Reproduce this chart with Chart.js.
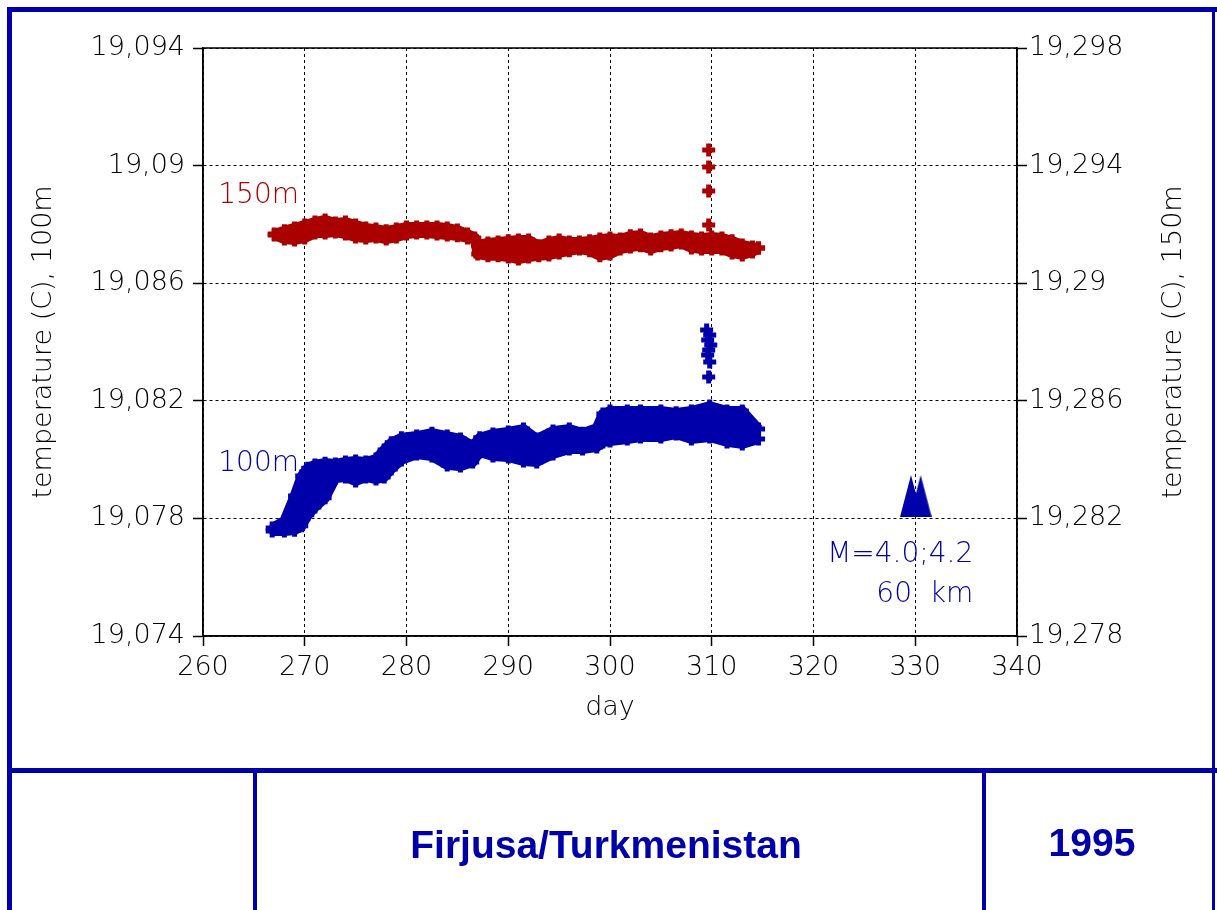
<!DOCTYPE html>
<html>
<head>
<meta charset="utf-8">
<title>Firjusa/Turkmenistan 1995</title>
<script src="https://cdn.jsdelivr.net/npm/chart.js@4.4.0/dist/chart.umd.min.js"></script>
<style>
  html, body { margin: 0; padding: 0; background: #fff; }
  #wrap { width: 1217px; height: 910px; }
</style>
</head>
<body>
<div id="wrap"><canvas id="myChart" width="1217" height="910"></canvas></div>
<script>
// 150m sensor (right axis): upper / lower edge of the point cloud
const redDays = [267, 268, 269, 270, 271, 272, 273, 274, 275, 276, 277, 278, 279, 280, 281, 282, 283, 284, 285, 286, 286.7,
  287, 288, 289, 290, 291, 292, 293, 294, 295, 296, 297, 298, 299, 300, 301, 302, 303, 304, 305, 306, 307, 308, 309, 310, 311, 312, 313, 314, 314.6];
const redHigh = [19.29167, 19.29178, 19.29188, 19.29198, 19.29208, 19.29215, 19.29205, 19.29208, 19.29198, 19.29188, 19.29184, 19.29178, 19.29184, 19.29191, 19.29191, 19.29191, 19.29191, 19.29188, 19.29181, 19.29167, 19.29154,
  19.29130, 19.29137, 19.29140, 19.29144, 19.29147, 19.29147, 19.29127, 19.29140, 19.29147, 19.29140, 19.29140, 19.29144, 19.29150, 19.29154, 19.29150, 19.29161, 19.29164, 19.29150, 19.29157, 19.29161, 19.29164, 19.29157, 19.29154, 19.29157, 19.29154, 19.29144, 19.29130, 19.29123, 19.29120];
const redLow = [19.29164, 19.29150, 19.29147, 19.29154, 19.29171, 19.29171, 19.29174, 19.29167, 19.29157, 19.29154, 19.29157, 19.29150, 19.29157, 19.29167, 19.29171, 19.29171, 19.29167, 19.29164, 19.29161, 19.29154, 19.29150,
  19.29099, 19.29093, 19.29093, 19.29089, 19.29082, 19.29089, 19.29093, 19.29096, 19.29103, 19.29110, 19.29116, 19.29110, 19.29093, 19.29099, 19.29116, 19.29123, 19.29127, 19.29116, 19.29127, 19.29130, 19.29137, 19.29120, 19.29116, 19.29116, 19.29116, 19.29103, 19.29096, 19.29106, 19.29120];
const redSpikeDays = [309.7, 309.7, 309.7, 309.7];
const redSpike = [19.29453, 19.29395, 19.29314, 19.29198];

// 100m sensor (left axis)
const blueDays = [266.8, 268, 269, 269.7, 270.3, 271, 272, 273, 274, 275, 276, 277, 277.8, 278.5, 279.5, 281, 282.5, 284, 285.3, 286.5,
  287.2, 288.5, 290, 291.5, 292.8, 294.4, 296, 297.3, 298.7, 299.3, 300, 301.7, 303, 305, 306.5, 308, 309.8, 311.5, 313, 314.6];
const blueHigh = [19.07767, 19.07791, 19.07876, 19.07944, 19.07971, 19.07982, 19.07988, 19.07985, 19.07992, 19.07995, 19.07992, 19.08002, 19.08033, 19.08057, 19.08074, 19.08080, 19.08090, 19.08080, 19.08070, 19.08046,
  19.08074, 19.08087, 19.08094, 19.08104, 19.08070, 19.08097, 19.08104, 19.08090, 19.08107, 19.08155, 19.08165, 19.08165, 19.08165, 19.08165, 19.08159, 19.08165, 19.08182, 19.08165, 19.08165, 19.08104];
const blueLow = [19.07757, 19.07757, 19.07760, 19.07775, 19.07812, 19.07839, 19.07870, 19.07937, 19.07941, 19.07927, 19.07941, 19.07934, 19.07941, 19.07968, 19.07999, 19.08019, 19.08012, 19.07982, 19.07978, 19.07992,
  19.08026, 19.08012, 19.08009, 19.07995, 19.07992, 19.08019, 19.08036, 19.08036, 19.08043, 19.08060, 19.08063, 19.08070, 19.08077, 19.08077, 19.08087, 19.08070, 19.08077, 19.08060, 19.08053, 19.08070];
const blueSpikeDays = [309.5, 309.8, 309.6, 309.9, 309.7, 309.6, 309.8, 309.7];
const blueSpike = [19.08441, 19.08424, 19.08407, 19.08390, 19.08373, 19.08356, 19.08332, 19.08281];

// earthquake marker (M=4.0;4.2, 60 km)
const quakeDays = [329.58, 330.53];
const quakeTemp = [19.07876, 19.07876];

const dayTicks = [260, 270, 280, 290, 300, 310, 320, 330, 340];
const leftTicks = [19.074, 19.078, 19.082, 19.086, 19.09, 19.094];
const leftLabels = ["19,074", "19,078", "19,082", "19,086", "19,09", "19,094"];
const rightTicks = [19.278, 19.282, 19.286, 19.29, 19.294, 19.298];
const rightLabels = ["19,278", "19,282", "19,286", "19,29", "19,294", "19,298"];

const RED = "#aa0000";
const BLUE = "#0000aa";
const FRAME = "#0000aa";
const font = { family: "'DejaVu Sans'", size: 27, weight: "200" };

function pts(xs, ys) {
  return xs.map((d, i) => ({ x: d, y: ys[i] }));
}

// tall triangle used for the quake symbol
const tri = document.createElement("canvas");
tri.width = 22;
tri.height = 42;
const tctx = tri.getContext("2d");
tctx.fillStyle = BLUE;
tctx.beginPath();
tctx.moveTo(0, 42);
tctx.lineTo(11, 0);
tctx.lineTo(22, 42);
tctx.closePath();
tctx.fill();

const band = (color) => ({
  showLine: true,
  borderColor: color,
  backgroundColor: color,
  borderWidth: 10,
  pointStyle: "cross",
  pointRadius: 6.5,
  pointBorderWidth: 5,
  pointBorderColor: color,
});

const framePlugin = {
  id: "frame",
  beforeDraw(chart) {
    const ctx = chart.ctx;
    ctx.save();
    ctx.fillStyle = "#fff";
    ctx.fillRect(0, 0, chart.width, chart.height);
    ctx.fillStyle = FRAME;
    ctx.fillRect(7, 7, 1210, 5);
    ctx.fillRect(7, 7, 5, 903);
    ctx.fillRect(1212, 7, 3, 903);
    ctx.fillRect(7, 768, 1210, 5);
    ctx.fillRect(253, 768, 4, 142);
    ctx.fillRect(982, 768, 4, 142);
    ctx.font = "bold 39px 'Liberation Sans'";
    ctx.textAlign = "center";
    ctx.textBaseline = "middle";
    ctx.fillText("Firjusa/Turkmenistan", 606, 847);
    ctx.fillText("1995", 1092, 845);
    ctx.restore();
  },
  afterDraw(chart) {
    const { ctx, chartArea: a } = chart;
    ctx.save();
    ctx.strokeStyle = "#000";
    ctx.lineWidth = 1.5;
    ctx.strokeRect(a.left, a.top, a.right - a.left, a.bottom - a.top);
    // right axis title reads bottom to top like the left one
    ctx.translate(1174, (a.top + a.bottom) / 2);
    ctx.rotate(-Math.PI / 2);
    ctx.font = "200 27px 'DejaVu Sans'";
    ctx.fillStyle = "#000";
    ctx.textAlign = "center";
    ctx.textBaseline = "middle";
    ctx.fillText("temperature (C), 150m", 0, 0);
    ctx.restore();
  },
};

const notesPlugin = {
  id: "notes",
  afterDatasetsDraw(chart) {
    const { ctx, scales: { x, y } } = chart;
    ctx.save();
    ctx.font = "200 28px 'DejaVu Sans'";
    ctx.textBaseline = "middle";
    ctx.textAlign = "left";
    ctx.fillStyle = RED;
    ctx.fillText("150m", x.getPixelForValue(261.5), y.getPixelForValue(19.08907) + 3);
    ctx.fillStyle = BLUE;
    ctx.fillText("100m", x.getPixelForValue(261.5), y.getPixelForValue(19.07995) + 3);
    ctx.textAlign = "right";
    ctx.fillText("M=4.0;4.2", x.getPixelForValue(335.7), y.getPixelForValue(19.07686) + 3);
    ctx.fillText("60  km", x.getPixelForValue(335.7), y.getPixelForValue(19.0755) + 3);
    ctx.restore();
  },
};

const ctx = document.getElementById("myChart").getContext("2d");
const myChart = new Chart(ctx, {
  type: "scatter",
  data: {
    datasets: [
      { ...band(RED), data: pts(redDays, redHigh), yAxisID: "y1", fill: false },
      { ...band(RED), data: pts(redDays, redLow), yAxisID: "y1", fill: "-1" },
      { data: pts(redSpikeDays, redSpike), yAxisID: "y1", pointStyle: "cross", pointRadius: 6.5, pointBorderWidth: 5, pointBorderColor: RED },
      { ...band(BLUE), data: pts(blueDays, blueHigh), yAxisID: "y", fill: false },
      { ...band(BLUE), data: pts(blueDays, blueLow), yAxisID: "y", fill: "-1" },
      { data: pts(blueSpikeDays, blueSpike), yAxisID: "y", pointStyle: "cross", pointRadius: 6.5, pointBorderWidth: 5, pointBorderColor: BLUE },
      { data: pts(quakeDays, quakeTemp), yAxisID: "y", pointStyle: tri, pointRadius: 3 },
    ],
  },
  options: {
    responsive: false,
    animation: false,
    devicePixelRatio: 1,
    layout: { padding: { top: 48, bottom: 174, left: 0, right: 0 } },
    plugins: { legend: { display: false }, tooltip: { enabled: false } },
    scales: {
      x: {
        type: "linear",
        position: "bottom",
        min: 260,
        max: 340,
        z: 1,
        afterFit: (s) => { s.height = 100; },
        afterBuildTicks: (s) => { s.ticks = dayTicks.map((v) => ({ value: v })); },
        ticks: { font, color: "#000", padding: 6, maxRotation: 0, autoSkip: false },
        grid: { color: "#000", lineWidth: 1, tickLength: 10, tickColor: "#000", tickWidth: 1.5 },
        border: { display: true, color: "#000", width: 1.5, dash: [3, 3] },
        title: { display: true, text: "day", font, color: "#000", padding: { top: 0, bottom: 12 } },
      },
      y: {
        type: "linear",
        position: "left",
        min: 19.074,
        max: 19.094,
        z: 1,
        afterFit: (s) => { s.width = 203; },
        afterBuildTicks: (s) => { s.ticks = leftTicks.map((v) => ({ value: v })); },
        ticks: { font, color: "#000", padding: 8, autoSkip: false, callback: (v, i) => leftLabels[i] },
        grid: { color: "#000", lineWidth: 1, tickLength: 10, tickColor: "#000", tickWidth: 1.5 },
        border: { display: true, color: "#000", width: 1.5, dash: [3, 3] },
        title: { display: true, text: "temperature (C), 100m", font, color: "#000", padding: { top: 28, bottom: 0 } },
      },
      y1: {
        type: "linear",
        position: "right",
        min: 19.278,
        max: 19.298,
        z: 1,
        afterFit: (s) => { s.width = 200; },
        afterBuildTicks: (s) => { s.ticks = rightTicks.map((v) => ({ value: v })); },
        ticks: { font, color: "#000", padding: 2, autoSkip: false, callback: (v, i) => rightLabels[i] },
        grid: { drawOnChartArea: false, color: "#000", tickLength: 10, tickColor: "#000", tickWidth: 1.5 },
        border: { display: true, color: "#000", width: 1.5 },
      },
    },
  },
  plugins: [framePlugin, notesPlugin],
});
</script>
</body>
</html>
